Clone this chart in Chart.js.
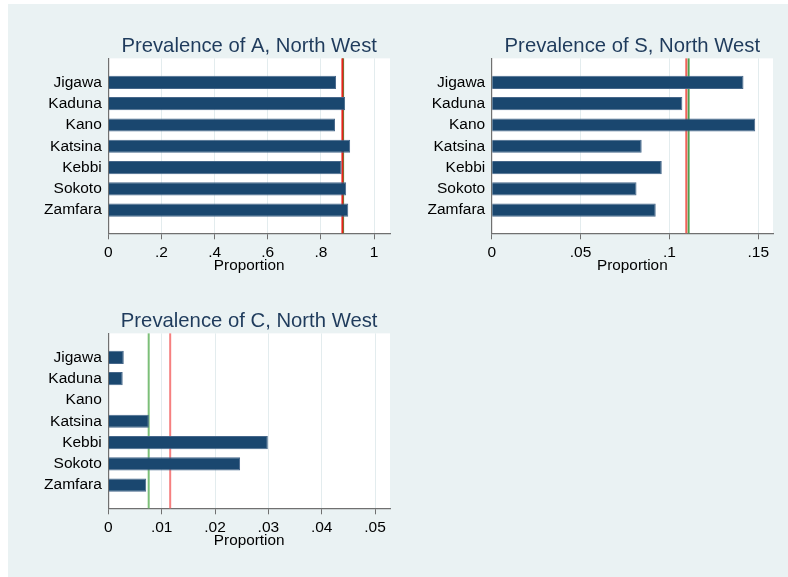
<!DOCTYPE html>
<html>
<head>
<meta charset="utf-8">
<script src="https://cdn.jsdelivr.net/npm/chart.js@4"></script>
<style>
  body { margin: 0; background: #fff; }
  #frame { position: absolute; left: 8px; top: 4px; width: 780px; height: 573px; background: #eaf2f3; }
  .box { position: absolute; }
</style>
</head>
<body>
<div id="frame"></div>
<div class="box" style="left:40px;top:20px;width:360px;height:260px"><canvas id="chartA"></canvas></div>
<div class="box" style="left:420px;top:20px;width:365px;height:260px"><canvas id="chartS"></canvas></div>
<div class="box" style="left:40px;top:295px;width:360px;height:260px"><canvas id="chartC"></canvas></div>
<script>
// states, top to bottom
const states = ['Jigawa', 'Kaduna', 'Kano', 'Katsina', 'Kebbi', 'Sokoto', 'Zamfara'];

// proportions
const prevA = [0.857, 0.891, 0.853, 0.910, 0.878, 0.895, 0.903];
const prevS = [0.1417, 0.1073, 0.1483, 0.0844, 0.0957, 0.0815, 0.0923];
const prevC = [0.0029, 0.0027, 0, 0.0076, 0.0299, 0.0247, 0.0071];

// reference lines (red, green)
const refA = [0.881, 0.8835];
const refS = [0.1095, 0.1108];
const refC = [0.0116, 0.00757];

// x axis ticks
const ticksA = [0, 0.2, 0.4, 0.6, 0.8, 1];
const ticksS = [0, 0.05, 0.1, 0.15];
const ticksC = [0, 0.01, 0.02, 0.03, 0.04, 0.05];

const fmt = v => v === 0 ? '0' : String(+v.toFixed(4)).replace(/^0\./, '.');

const refLines = {
    id: 'refLines',
    beforeDatasetsDraw(chart, args, opts) {
        const { ctx, chartArea, scales } = chart;
        ctx.save();
        // green first, red over it
        [[opts.values[1], opts.green], [opts.values[0], opts.red]].forEach(([v, col]) => {
            const x = scales.x.getPixelForValue(v);
            ctx.strokeStyle = col;
            ctx.lineWidth = 2;
            ctx.beginPath();
            ctx.moveTo(x, chartArea.top);
            ctx.lineTo(x, chartArea.bottom);
            ctx.stroke();
        });
        ctx.restore();
    }
};

const plotBg = {
    id: 'plotBg',
    beforeDraw(chart) {
        const { ctx, chartArea } = chart;
        ctx.save();
        ctx.fillStyle = '#ffffff';
        ctx.fillRect(chartArea.left, chartArea.top, chartArea.right - chartArea.left, chartArea.bottom - chartArea.top);
        ctx.restore();
    }
};

function makeChart(id, title, values, refs, xTicks, xMax, yWidth, padRight, colors) {
    return new Chart(document.getElementById(id), {
        type: 'bar',
        data: {
            datasets: [{
                data: values.map((v, i) => ({ x: v, y: i })),
                backgroundColor: '#1a476f',
                borderColor: '#46678a',
                borderWidth: 1,
                categoryPercentage: 1,
                barPercentage: 0.62,
            }],
        },
        plugins: [plotBg, refLines],
        options: {
            indexAxis: 'y',
            responsive: true,
            maintainAspectRatio: false,
            animation: false,
            layout: { padding: { left: 0, right: padRight, top: 0, bottom: 0 } },
            plugins: {
                legend: { display: false },
                tooltip: { enabled: false },
                title: {
                    display: true,
                    text: title,
                    fullSize: false,
                    color: '#1f3b5c',
                    font: { family: 'Arial, "Liberation Sans", sans-serif', size: 20.3, weight: 'normal', lineHeight: 1.2 },
                    padding: { top: 14, bottom: 0 },
                },
                refLines: { values: refs, red: colors[0], green: colors[1] },
            },
            scales: {
                x: {
                    type: 'linear',
                    min: 0,
                    max: xMax,
                    afterBuildTicks: s => { s.ticks = xTicks.map(v => ({ value: v })); },
                    afterFit: s => { s.height = 46.7; },
                    ticks: {
                        callback: v => fmt(v),
                        color: '#000',
                        padding: 4.5,
                        maxRotation: 0,
                        font: { family: 'Arial, "Liberation Sans", sans-serif', size: 15.5 },
                    },
                    grid: { color: '#e3ecee', tickColor: '#707070', tickLength: 6, lineWidth: 1 },
                    border: { display: true, color: '#707070', width: 1.2 },
                    title: {
                        display: true,
                        text: 'Proportion',
                        color: '#000',
                        padding: { top: 0, bottom: 4.6 },
                        font: { family: 'Arial, "Liberation Sans", sans-serif', size: 15.3, lineHeight: 1.2 },
                    },
                },
                y: {
                    type: 'linear',
                    reverse: true,
                    offset: false,
                    min: -1.13,
                    max: 7.09,
                    afterBuildTicks: s => { s.ticks = states.map((n, i) => ({ value: i })); },
                    afterFit: s => { s.width = yWidth; },
                    ticks: {
                        callback: v => states[v] || '',
                        color: '#000',
                        padding: 6.5,
                        font: { family: 'Arial, "Liberation Sans", sans-serif', size: 15.5 },
                    },
                    grid: { display: false, drawTicks: false },
                    border: { display: true, color: '#707070', width: 1.2 },
                },
            },
        },
    });
}

makeChart('chartA', 'Prevalence of A, North West', prevA, refA, ticksA, 1.06, 68.3, 10, ['#e8231b', '#3f9a3f']);
makeChart('chartS', 'Prevalence of S, North West', prevS, refS, ticksS, 0.1583, 71.7, 12, ['#f0625a', '#4f9f4f']);
makeChart('chartC', 'Prevalence of C, North West', prevC, refC, ticksC, 0.0528, 68.3, 10, ['#f68080', '#7cbf78']);
</script>
</body>
</html>
